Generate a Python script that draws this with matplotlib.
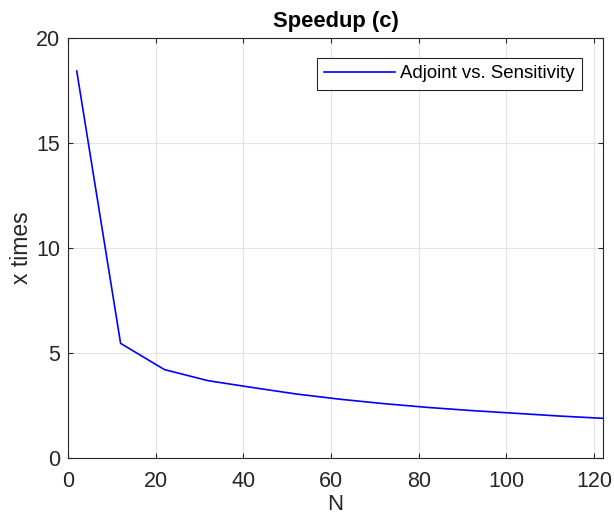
import matplotlib
matplotlib.use('Agg')
from matplotlib import pyplot as plt

N = [2, 12, 22, 32, 42, 52, 62, 72, 82, 92, 102, 112, 122]
speedup = [18.43, 5.46, 4.21, 3.68, 3.36, 3.05, 2.80, 2.59, 2.41, 2.26, 2.13, 2.00, 1.89]

plt.rcParams['font.family'] = ['Liberation Sans', 'DejaVu Sans']

fig = plt.figure(figsize=(6.14, 5.18), dpi=100)
ax = fig.add_axes([0.1107, 0.1158, 0.8713, 0.8108])

ax.plot(N, speedup, color='#0000ff', lw=1.2, label='Adjoint vs. Sensitivity')

ax.set_xlim(0, 122)
ax.set_ylim(0, 20)
ax.set_xticks([0, 20, 40, 60, 80, 100, 120])
ax.set_yticks([0, 5, 10, 15, 20])
ax.grid(True, color='#e3e3e3', lw=0.8)
ax.set_axisbelow(True)
ax.tick_params(direction='in', top=True, right=True, labelsize=15.5, colors='#262626', length=3.6)
ax.tick_params(axis='x', pad=9.5)
ax.tick_params(axis='y', pad=5.5)
for s in ax.spines.values():
    s.set_color('#262626')
    s.set_linewidth(0.8)

ax.set_title('Speedup (c)', fontsize=15.8, fontweight='bold', pad=8)
ax.set_xlabel('N', fontsize=16, color='#262626', labelpad=1.5)
ax.set_ylabel('x times', fontsize=16.5, color='#262626', labelpad=2.3)

leg = ax.legend(loc='upper right', bbox_to_anchor=(0.9607, 0.9524), borderaxespad=0,
                fontsize=13.4, fancybox=False, framealpha=1, edgecolor='#262626',
                handlelength=3.8, borderpad=0.4, handletextpad=0.25)
leg.get_frame().set_linewidth(0.8)

fig.savefig('out.png', dpi=100)
